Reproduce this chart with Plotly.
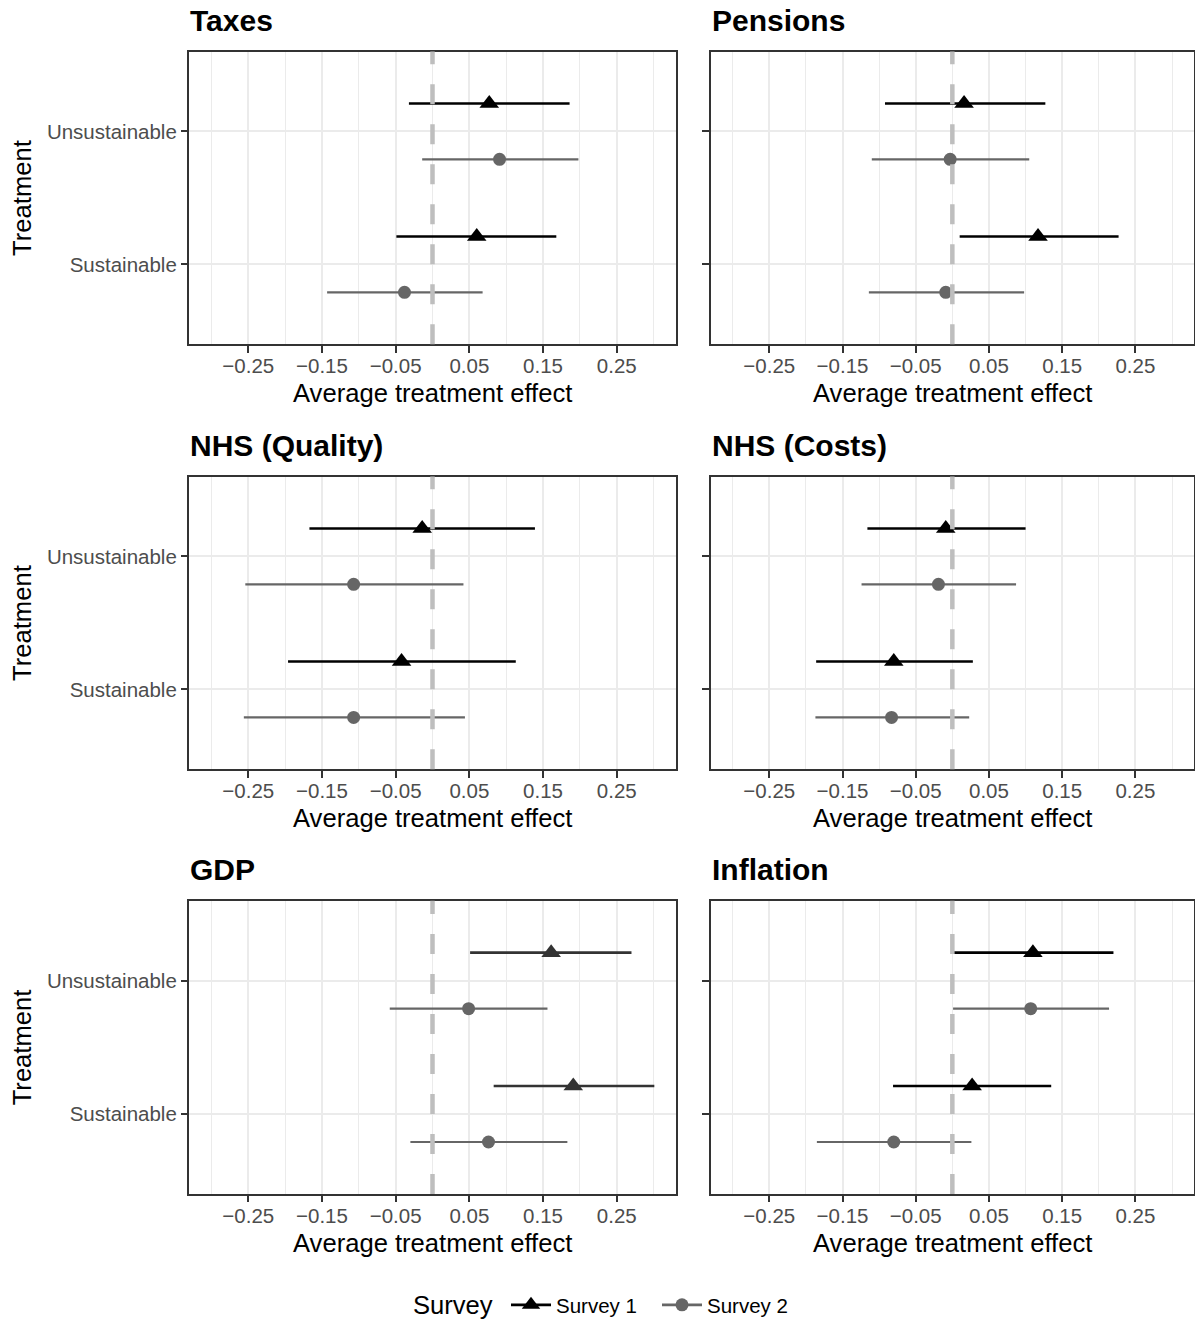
import plotly.graph_objects as go

# ---------------- data ----------------
panels = ["Taxes", "Pensions", "NHS (Quality)", "NHS (Costs)", "GDP", "Inflation"]
treatments = ["Sustainable", "Unsustainable"]
surveys = ["Survey 1", "Survey 2"]
x_ticks = [-0.25, -0.15, -0.05, 0.05, 0.15, 0.25]
x_tick_labels = ["\u22120.25", "\u22120.15", "\u22120.05", "0.05", "0.15", "0.25"]
x_minor = [-0.3, -0.2, -0.1, 0.0, 0.1, 0.2, 0.3]

# each entry: [Sustainable, Unsustainable]
s1_est = [[0.060, 0.077], [0.117, 0.016], [-0.042, -0.014], [-0.080, -0.009], [0.191, 0.161], [0.027, 0.110]]
s1_lo = [[-0.049, -0.032], [0.010, -0.092], [-0.196, -0.167], [-0.186, -0.116], [0.083, 0.051], [-0.081, 0.001]]
s1_hi = [[0.168, 0.186], [0.227, 0.127], [0.113, 0.139], [0.028, 0.100], [0.301, 0.270], [0.135, 0.220]]

s2_est = [[-0.038, 0.091], [-0.009, -0.003], [-0.107, -0.107], [-0.083, -0.019], [0.076, 0.049], [-0.080, 0.107]]
s2_lo = [[-0.143, -0.014], [-0.114, -0.110], [-0.256, -0.254], [-0.187, -0.124], [-0.030, -0.058], [-0.185, 0.001]]
s2_hi = [[0.068, 0.198], [0.098, 0.105], [0.044, 0.042], [0.023, 0.087], [0.183, 0.156], [0.026, 0.214]]

# ---------------- style ----------------
W, H = 1195, 1325
FONT = "Liberation Sans, Arial, sans-serif"
s1_colors = ["#000000", "#000000", "#000000", "#000000", "#333333", "#000000"]
s2_color = "#666666"
dodge = {"Survey 1": 0.21, "Survey 2": -0.21}
ypos = {"Sustainable": 1, "Unsustainable": 2}
TRI_SIZE, CIRC_SIZE = 17, 13

col_px = [(189.3, 675.7), (710.7, 1194.0)]
row_px = [(51.7, 345.0), (477.7, 771.0), (902.7, 1196.7)]

fig = go.Figure()
layout = {}
annotations = []
shapes = []

for i, pname in enumerate(panels):
    r, c = divmod(i, 2)
    n = i + 1
    xa = "x" if n == 1 else f"x{n}"
    ya = "y" if n == 1 else f"y{n}"
    xk = "xaxis" if n == 1 else f"xaxis{n}"
    yk = "yaxis" if n == 1 else f"yaxis{n}"

    series = [
        ("Survey 1", s1_est[i], s1_lo[i], s1_hi[i], s1_colors[i], "triangle-up", TRI_SIZE, 2.6),
        ("Survey 2", s2_est[i], s2_lo[i], s2_hi[i], s2_color, "circle", CIRC_SIZE, 2.2),
    ]
    for sname, est, lo, hi, colr, sym, msize, lw in series:
        ys = [ypos[t] + dodge[sname] for t in treatments]
        sx, sy = [], []
        for k in range(len(treatments)):
            sx += [lo[k], hi[k], None]
            sy += [ys[k], ys[k], None]
        fig.add_trace(go.Scatter(x=sx, y=sy, mode="lines", line=dict(color=colr, width=lw),
                                 xaxis=xa, yaxis=ya, showlegend=False, hoverinfo="skip"))
        fig.add_trace(go.Scatter(x=est, y=ys, mode="markers",
                                 marker=dict(symbol=sym, size=msize, color=colr, line=dict(width=0)),
                                 xaxis=xa, yaxis=ya, showlegend=False, hoverinfo="skip"))

    x0, x1 = col_px[c]
    y0, y1 = row_px[r]
    layout[xk] = dict(
        domain=[x0 / W, x1 / W], anchor=ya, range=[-0.33, 0.33],
        tickvals=x_ticks, ticktext=x_tick_labels,
        tickfont=dict(family=FONT, size=20.5, color="#4D4D4D"),
        ticks="outside", ticklen=6.4, tickwidth=2, tickcolor="#333333",
        ticklabelstandoff=-4,
        showgrid=True, gridcolor="#EBEBEB", gridwidth=2.4,
        minor=dict(tickvals=x_minor, showgrid=True, gridcolor="#EBEBEB", gridwidth=1.2, ticks=""),
        showline=True, linecolor="#333333", linewidth=2, mirror=True,
        zeroline=False, fixedrange=True,
    )
    layout[yk] = dict(
        domain=[1 - y1 / H, 1 - y0 / H], anchor=xa, range=[0.4, 2.6],
        tickvals=[ypos[t] for t in treatments], ticktext=treatments,
        showticklabels=(c == 0),
        tickfont=dict(family=FONT, size=20.5, color="#4D4D4D"),
        ticks="outside", ticklen=6.4, tickwidth=2, tickcolor="#333333",
        showgrid=True, gridcolor="#EBEBEB", gridwidth=2.4,
        showline=True, linecolor="#333333", linewidth=2, mirror=True,
        zeroline=False, fixedrange=True,
    )
    shapes.append(dict(type="line", xref=xa, yref=f"{ya} domain", x0=0, x1=0, y0=0, y1=1,
                       line=dict(color="#BEBEBE", width=4.5, dash="20px,20px"), layer="above"))

    # panel title
    annotations.append(dict(text=f"<b>{pname}</b>", xref="paper", yref="paper",
                            x=(x0 - 1) / W, y=1 - (y0 - 31.2) / H, xanchor="left", yanchor="middle",
                            showarrow=False, font=dict(family=FONT, size=30, color="#000000")))
    # x-axis title
    annotations.append(dict(text="Average treatment effect", xref="paper", yref="paper",
                            x=((x0 + x1) / 2) / W, y=1 - (y1 + 49) / H, xanchor="center", yanchor="middle",
                            showarrow=False, font=dict(family=FONT, size=25.6, color="#000000")))
    if c == 0:
        annotations.append(dict(text="Treatment", xref="paper", yref="paper",
                                x=22 / W, y=1 - ((y0 + y1) / 2) / H, xanchor="center", yanchor="middle",
                                textangle=-90, showarrow=False,
                                font=dict(family=FONT, size=25.6, color="#000000")))

# legend title
annotations.append(dict(text="Survey", xref="paper", yref="paper",
                        x=453 / W, y=1 - 1308 / H, xanchor="center", yanchor="middle",
                        showarrow=False, font=dict(family=FONT, size=25.6, color="#000000")))

# legend-only traces
fig.add_trace(go.Scatter(x=[None], y=[None], mode="lines+markers", name=surveys[0],
                         line=dict(color="#000000", width=2.8),
                         marker=dict(symbol="triangle-up", size=TRI_SIZE, color="#000000")))
fig.add_trace(go.Scatter(x=[None], y=[None], mode="lines+markers", name=surveys[1],
                         line=dict(color=s2_color, width=2.8),
                         marker=dict(symbol="circle", size=CIRC_SIZE, color=s2_color)))

fig.update_layout(
    width=W, height=H, margin=dict(l=0, r=0, t=0, b=0),
    paper_bgcolor="white", plot_bgcolor="white",
    font=dict(family=FONT, color="#000000"),
    showlegend=True,
    legend=dict(orientation="h", x=506 / W, xanchor="left", y=1 - 1308 / H, yanchor="middle",
                itemwidth=40, entrywidth=96, entrywidthmode="pixels",
                font=dict(family=FONT, size=20.5, color="#000000"), bgcolor="rgba(0,0,0,0)"),
    annotations=annotations, shapes=shapes,
    **layout,
)

fig.write_html("out.html")
